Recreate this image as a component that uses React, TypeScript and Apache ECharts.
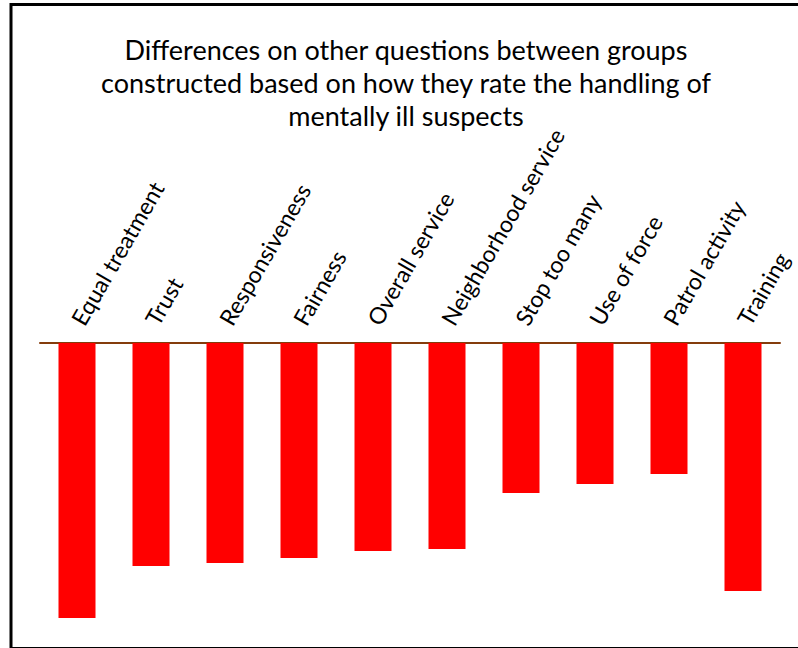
import React, { useEffect, useRef } from "react";
import * as echarts from "echarts";

const categories = [
  "Equal treatment",
  "Trust",
  "Responsiveness",
  "Fairness",
  "Overall service",
  "Neighborhood service",
  "Stop too many",
  "Use of force",
  "Patrol activity",
  "Training",
];
const differences = [-0.275, -0.223, -0.22, -0.215, -0.208, -0.206, -0.15, -0.141, -0.131, -0.248];
const titleLines = [
  "Differences on other questions between groups",
  "constructed based on how they rate the handling of",
  "mentally ill suspects",
];

export default function App() {
  const ref = useRef<HTMLDivElement>(null);
  useEffect(() => {
    document.body.style.margin = "0";
    const chart = echarts.init(ref.current!, null, { renderer: "svg" });
    chart.setOption({
      animation: false,
      backgroundColor: "#fff",
      title: {
        text: titleLines.join("\n"),
        left: 401,
        top: 28,
        textAlign: "center",
        textStyle: {
          fontFamily: "Lato",
          fontWeight: "normal",
          fontSize: 27,
          lineHeight: 33,
          color: "#000",
        },
      },
      graphic: [
        {
          type: "rect",
          shape: { x: 11, y: 4.5, width: 820, height: 644 },
          style: { fill: "none", stroke: "#000", lineWidth: 3 },
          silent: true,
        },
      ],
      grid: { left: 40, right: 18, top: 343, height: 300 },
      xAxis: {
        type: "category",
        data: categories,
        position: "top",
        axisLine: { lineStyle: { color: "#843C0C", width: 2 } },
        axisTick: { show: false },
        axisLabel: {
          rotate: 60,
          interval: 0,
          margin: 20,
          fontFamily: "Lato",
          fontSize: 23,
          color: "#000",
        },
      },
      yAxis: {
        type: "value",
        min: -0.3,
        max: 0,
        show: false,
        splitLine: { show: false },
      },
      series: [
        {
          type: "bar",
          data: differences,
          barWidth: "50%",
          itemStyle: { color: "#FF0000" },
        },
      ],
    });
    return () => chart.dispose();
  }, []);
  return <div ref={ref} style={{ width: 798, height: 648 }} />;
}
